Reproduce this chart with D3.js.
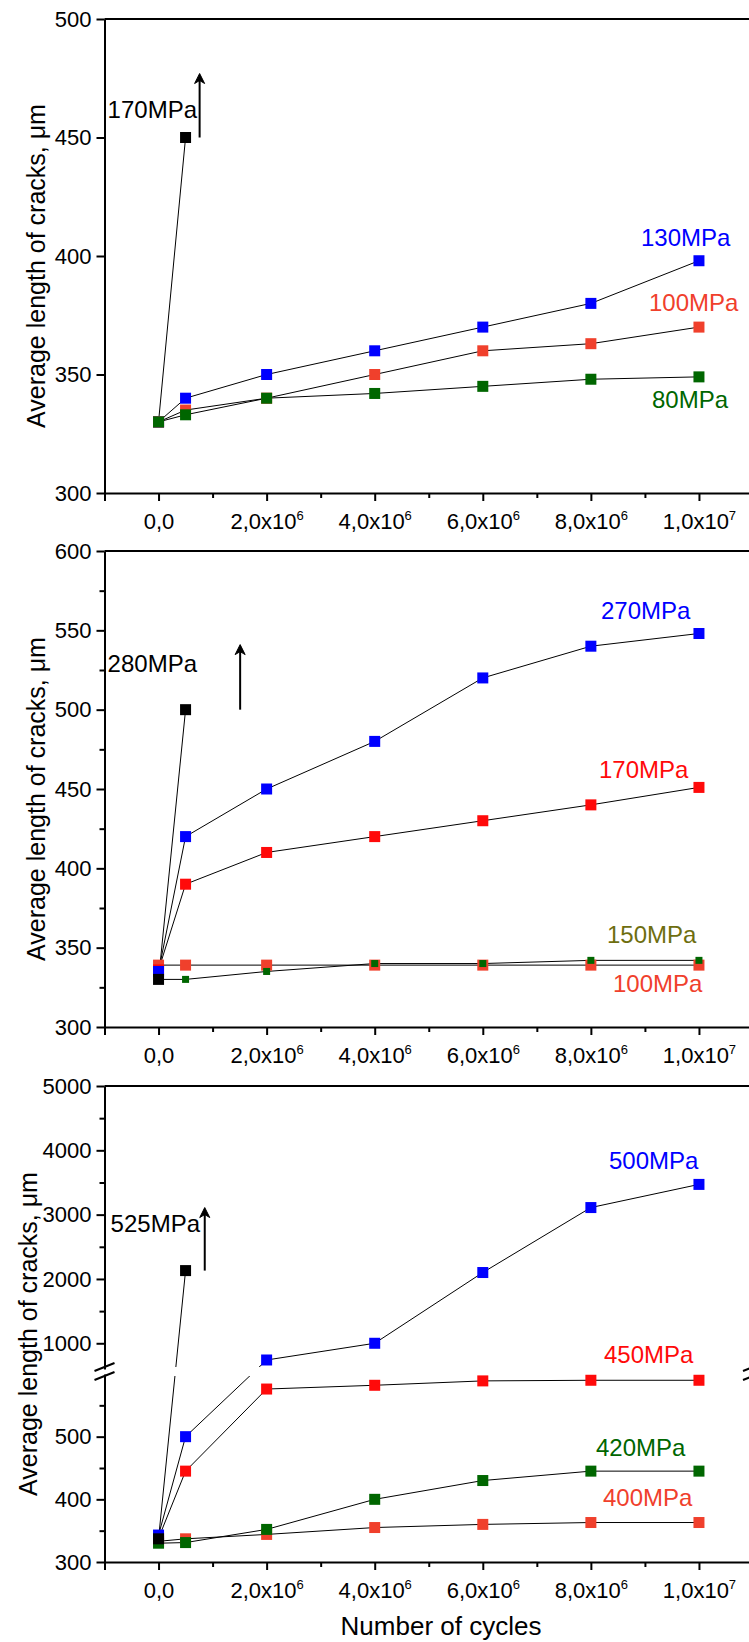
<!DOCTYPE html>
<html>
<head>
<meta charset="utf-8">
<script src="https://cdn.jsdelivr.net/npm/d3@7"></script>
<style>
  body { margin: 0; background: #fff; }
  svg { display: block; font-family: Arial, "Liberation Sans", sans-serif; }
</style>
</head>
<body>
<div id="chart"></div>
<script>
// number of cycles at which the crack length was measured
var cycles = [0, 5e5, 2e6, 4e6, 6e6, 8e6, 1e7];
var xTicks = [0, 2e6, 4e6, 6e6, 8e6, 1e7];
var xTickLabels = [["0,0", ""], ["2,0x10", "6"], ["4,0x10", "6"], ["6,0x10", "6"], ["8,0x10", "6"], ["1,0x10", "7"]];
var xMinor = [1e6, 3e6, 5e6, 7e6, 9e6];

// panel 1, average crack length (um)
var p1_170 = [330, 450];
var p1_130 = [330, 340, 350, 360, 370, 380, 398];
var p1_100 = [330, 335, 340, 350, 360, 363, 370];
var p1_80  = [330, 333, 340, 342, 345, 348, 349];
var p1Ticks = [300, 350, 400, 450, 500];

// panel 2
var p2_280 = [330, 500];
var p2_270 = [335, 420, 450, 480, 520, 540, 548];
var p2_170 = [336, 390, 410, 420, 430, 440, 451];
var p2_150 = [330, 330, 335, 340, 340, 342, 342];
var p2_100 = [339, 339, 339, 339, 339, 339, 339];
var p2Ticks = [300, 350, 400, 450, 500, 550, 600];
var p2Minor = [325, 375, 425, 475, 525, 575];

// panel 3 (broken y axis)
var p3_525 = [337, 2130];
var p3_500 = [343, 500, 740, 1000, 2100, 3110, 3470];
var p3_450 = [338, 445, 576, 582, 589, 590, 590];
var p3_420 = [330, 331, 352, 400, 430, 445, 445];
var p3_400 = [333, 337, 344, 355, 360, 363, 363];
var p3TicksLow = [300, 400, 500];
var p3MinorLow = [350, 450, 550];
var p3TicksHigh = [1000, 2000, 3000, 4000, 5000];
var p3MinorHigh = [1500, 2500, 3500, 4500];

var BLUE = "#0000ff", RED = "#ff0a0a", ORANGE = "#f0402c", GREEN = "#006600", OLIVE = "#6e6e10";

var W = 749, H = 1642;
var svg = d3.select("#chart").append("svg").attr("width", W).attr("height", H);

var x = d3.scaleLinear().domain([-1e6, 11e6]).range([104.5, 753]);

// y scales
var y1 = d3.scaleLinear().domain([300, 500]).range([493, 19]);
var y2 = d3.scaleLinear().domain([300, 600]).range([1027, 551]);
var y3lo = d3.scaleLinear().domain([300, 600]).range([1562, 1374]);
var y3hi = d3.scaleLinear().domain([600, 5000]).range([1369, 1086]);
function y3(v) { return v <= 600 ? y3lo(v) : y3hi(v); }

var panels = [
  {
    y: y1, top: 19, bottom: 493, titleX: 36,
    yAxes: [{ scale: y1, ticks: p1Ticks, minor: [] }],
    series: [
      { vals: p1_170, color: "#000", size: 11 },
      { vals: p1_130, color: BLUE, size: 11 },
      { vals: p1_100, color: ORANGE, size: 11 },
      { vals: p1_80, color: GREEN, size: 11 }
    ],
    labels: [
      { text: "170MPa", color: "#000", x: 197, y: 110, anchor: "end" },
      { text: "130MPa", color: BLUE, x: 641, y: 238 },
      { text: "100MPa", color: ORANGE, x: 649, y: 303 },
      { text: "80MPa", color: GREEN, x: 652, y: 400 }
    ],
    arrow: { at: 7.6e5, from: 450, to: 477 }
  },
  {
    y: y2, top: 551, bottom: 1027, titleX: 36,
    yAxes: [{ scale: y2, ticks: p2Ticks, minor: p2Minor }],
    series: [
      { vals: p2_100, color: ORANGE, size: 11 },
      { vals: p2_170, color: RED, size: 11 },
      { vals: p2_150, color: GREEN, size: 7 },
      { vals: p2_270, color: BLUE, size: 11 },
      { vals: p2_280, color: "#000", size: 11 }
    ],
    labels: [
      { text: "280MPa", color: "#000", x: 197, y: 664, anchor: "end" },
      { text: "270MPa", color: BLUE, x: 601, y: 611 },
      { text: "170MPa", color: RED, x: 599, y: 770 },
      { text: "150MPa", color: OLIVE, x: 607, y: 935 },
      { text: "100MPa", color: ORANGE, x: 613, y: 984 }
    ],
    arrow: { at: 1.51e6, from: 500, to: 541 }
  },
  {
    y: y3, top: 1086, bottom: 1562, broken: true, titleX: 28,
    yAxes: [
      { scale: y3hi, ticks: p3TicksHigh, minor: p3MinorHigh },
      { scale: y3lo, ticks: p3TicksLow, minor: p3MinorLow }
    ],
    series: [
      { vals: p3_400, color: ORANGE, size: 11 },
      { vals: p3_420, color: GREEN, size: 11 },
      { vals: p3_450, color: RED, size: 11 },
      { vals: p3_500, color: BLUE, size: 11 },
      { vals: p3_525, color: "#000", size: 11 }
    ],
    labels: [
      { text: "525MPa", color: "#000", x: 200, y: 1224, anchor: "end" },
      { text: "500MPa", color: BLUE, x: 609, y: 1161 },
      { text: "450MPa", color: RED, x: 604, y: 1355 },
      { text: "420MPa", color: GREEN, x: 596, y: 1448 },
      { text: "400MPa", color: ORANGE, x: 603, y: 1498 }
    ],
    arrow: { at: 8.55e5, from: 2130, to: 3110 }
  }
];

panels.forEach(function(p) {
  var g = svg.append("g");

  // connecting lines
  var line = d3.line().x(function(d) { return x(d[0]); }).y(function(d) { return p.y(d[1]); });
  p.series.forEach(function(s) {
    g.append("path")
      .datum(s.vals.map(function(v, i) { return [cycles[i], v]; }))
      .attr("d", line)
      .attr("fill", "none")
      .attr("stroke", "#000")
      .attr("stroke-width", 1);
  });

  // gap where the axis is broken
  if (p.broken) {
    g.append("rect")
      .attr("x", x.range()[0] + 2).attr("y", y3hi(600) - 2)
      .attr("width", W).attr("height", y3lo(600) - y3hi(600) + 4)
      .attr("fill", "#fff");
  }

  // square markers
  p.series.forEach(function(s) {
    g.selectAll(null)
      .data(s.vals.map(function(v, i) { return [cycles[i], v]; }))
      .enter().append("rect")
      .attr("x", function(d) { return x(d[0]) - s.size / 2; })
      .attr("y", function(d) { return p.y(d[1]) - s.size / 2; })
      .attr("width", s.size).attr("height", s.size)
      .attr("fill", s.color);
  });

  // x axis
  var xa = g.append("g")
    .attr("transform", "translate(0," + p.bottom + ")")
    .call(d3.axisBottom(x).tickValues([-1e6].concat(xTicks)).tickSize(8).tickSizeOuter(0).tickPadding(12));
  xa.selectAll(".tick text").each(function(d) {
    var t = d3.select(this).text(null).attr("font-size", 22).attr("font-family", "Arial, 'Liberation Sans', sans-serif");
    var k = xTicks.indexOf(d);
    if (k < 0) return;
    t.append("tspan").text(xTickLabels[k][0]);
    if (xTickLabels[k][1]) {
      t.append("tspan").attr("dy", -9).attr("font-size", 13).text(xTickLabels[k][1]);
    }
  });
  g.append("g")
    .attr("transform", "translate(0," + p.bottom + ")")
    .call(d3.axisBottom(x).tickValues(xMinor).tickSize(5).tickSizeOuter(0).tickFormat(""))
    .select(".domain").remove();

  // y axes
  p.yAxes.forEach(function(a) {
    var ya = g.append("g")
      .attr("transform", "translate(" + x.range()[0] + ",0)")
      .call(d3.axisLeft(a.scale).tickValues(a.ticks).tickSize(8).tickSizeOuter(0).tickPadding(5).tickFormat(d3.format("d")));
    ya.selectAll(".tick text").attr("font-size", 22).attr("font-family", "Arial, 'Liberation Sans', sans-serif");
    if (a.minor.length) {
      g.append("g")
        .attr("transform", "translate(" + x.range()[0] + ",0)")
        .call(d3.axisLeft(a.scale).tickValues(a.minor).tickSize(5).tickSizeOuter(0).tickFormat(""))
        .select(".domain").remove();
    }
  });

  g.selectAll(".domain").attr("stroke-width", 2);
  g.selectAll(".tick line").attr("stroke-width", 2);

  // frame: top and right
  g.append("path")
    .attr("d", "M" + x.range()[0] + "," + p.top + "H" + x.range()[1] + "V" + p.bottom)
    .attr("fill", "none").attr("stroke", "#000").attr("stroke-width", 2);

  // break marks on the broken axis
  if (p.broken) {
    var yb = [y3hi(600) - 2, y3lo(600) + 2];
    [x.range()[0], x.range()[1]].forEach(function(ax) {
      yb.forEach(function(yy) {
        g.append("line")
          .attr("x1", ax - 10).attr("y1", yy + 4)
          .attr("x2", ax + 10).attr("y2", yy - 4)
          .attr("stroke", "#000").attr("stroke-width", 2);
      });
    });
  }

  // arrow
  var ax0 = x(p.arrow.at), ay0 = p.y(p.arrow.from), ay1 = p.y(p.arrow.to);
  g.append("line")
    .attr("x1", ax0).attr("y1", ay0)
    .attr("x2", ax0).attr("y2", ay1 + 4)
    .attr("stroke", "#000").attr("stroke-width", 2);
  g.append("path")
    .attr("d", "M" + ax0 + "," + ay1 + "l-5,10 l5,-3 l5,3 z")
    .attr("fill", "#000").attr("stroke", "#000").attr("stroke-width", 1);

  // series labels
  p.labels.forEach(function(l) {
    g.append("text")
      .attr("x", l.x).attr("y", l.y)
      .attr("dy", "0.35em")
      .attr("text-anchor", l.anchor || "start")
      .attr("font-size", 24)
      .attr("fill", l.color)
      .text(l.text);
  });

  // y title
  g.append("text")
    .attr("transform", "translate(" + p.titleX + "," + ((p.top + p.bottom) / 2 + 10) + ") rotate(-90)")
    .attr("text-anchor", "middle")
    .attr("dy", "0.35em")
    .attr("font-size", 25)
    .text("Average length of cracks, \u03bcm");
});

svg.append("text")
  .attr("x", 441).attr("y", 1626)
  .attr("dy", "0.35em")
  .attr("text-anchor", "middle")
  .attr("font-size", 26)
  .text("Number of cycles");
</script>
</body>
</html>
